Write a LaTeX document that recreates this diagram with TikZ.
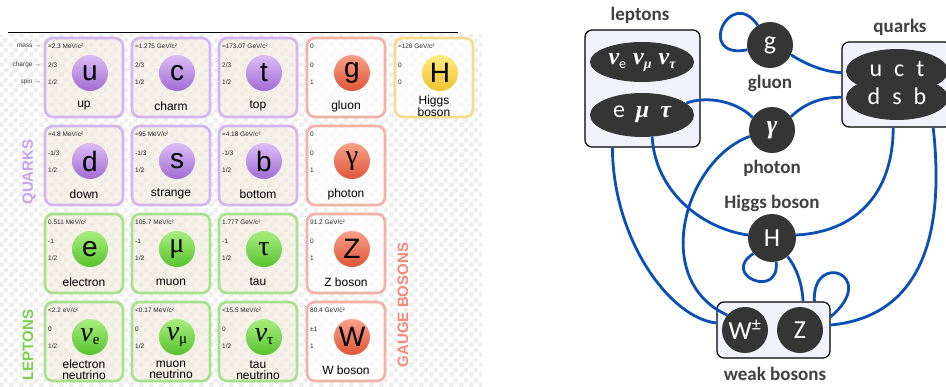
\documentclass[tikz,border=0pt]{standalone}
\usepackage{fontspec}
\setmainfont{Liberation Sans}
\newfontfamily\calfont{Carlito}
\newfontfamily\tnr{Liberation Serif}
\usetikzlibrary{patterns,shapes.geometric}

\pgfdeclarepatternformonly{checks}{\pgfpointorigin}{\pgfpoint{10pt}{10pt}}{\pgfpoint{10pt}{10pt}}{%
  \pgfpathrectangle{\pgfpointorigin}{\pgfpoint{5pt}{5pt}}%
  \pgfpathrectangle{\pgfpoint{5pt}{5pt}}{\pgfpoint{5pt}{5pt}}%
  \pgfusepath{fill}}

\definecolor{checkgray}{HTML}{EEEEEE}
\definecolor{qborder}{HTML}{D3B6EF}
\definecolor{lborder}{HTML}{A8E18C}
\definecolor{gborder}{HTML}{F2B2A6}
\definecolor{hborder}{HTML}{F6DC8C}
\definecolor{qfill}{HTML}{F4ECDC}
\definecolor{lfill}{HTML}{F4ECDC}
\definecolor{gfill}{HTML}{FFFFFF}
\definecolor{hfill}{HTML}{FFFFFF}
\definecolor{qtop}{HTML}{DDBDF6}
\definecolor{qbot}{HTML}{A16CD4}
\definecolor{ltop}{HTML}{A9EF7E}
\definecolor{lbot}{HTML}{57C22E}
\definecolor{gtop}{HTML}{F7A088}
\definecolor{gbot}{HTML}{E0553A}
\definecolor{htop}{HTML}{FFEC85}
\definecolor{hbot}{HTML}{F0C22C}
\definecolor{qlabc}{HTML}{C9A2EE}
\definecolor{llabc}{HTML}{7CD04F}
\definecolor{glabc}{HTML}{F28A78}
\definecolor{dark}{HTML}{353535}
\definecolor{lav}{HTML}{F2F2FC}
\definecolor{labgray}{HTML}{404040}
\definecolor{linkblue}{HTML}{0A4FB5}

\pgfdeclarelayer{bg}
\pgfdeclarelayer{lines}
\pgfsetlayers{bg,lines,main}

\newcommand\nuL[1]{{\tnr\itshape ν}\raisebox{-3pt}{\tnr\fontsize{15}{15}\selectfont #1}}
\newcommand\nuR[1]{{\tnr\bfseries\itshape ν}\raisebox{-4pt}{\fontsize{14}{14}\selectfont #1}}

\newcommand\pcell[9]{%
  \node[cellbox=#4] (#1box) at ({#2+40},{#3+40.5}) {};
  \node[ball=#4] (#1ball) at ({#2+46},{#3+36}) {#5};
  \node[val] (#1m) at ({#2+4},{#3+9}) {#6};
  \node[val] (#1c) at ({#2+4},{#3+28}) {#7};
  \node[val] (#1s) at ({#2+4},{#3+45}) {#8};
  \node[pname] (#1n) at ({#2+40},{#3+69}) {#9};
}

\tikzset{
  cellbox/.style={draw=#1border, fill=#1fill, fill opacity=0.6, line width=2.6pt,
    rounded corners=8pt, minimum width=78pt, minimum height=79pt, inner sep=0pt},
  ball/.style={circle, minimum size=36pt, inner sep=0pt, top color=#1top, bottom color=#1bot,
    font=\fontsize{28}{28}\selectfont},
  val/.style={anchor=west, inner sep=0pt, font=\fontsize{6.5}{7}\selectfont, text=black!85},
  axlab/.style={anchor=east, inner sep=0pt, font=\fontsize{6.5}{7}\selectfont, text=black!75},
  pname/.style={align=center, inner sep=0pt, font=\fontsize{12}{11}\selectfont},
  biglab/.style={rotate=90, inner sep=0pt, font=\bfseries\fontsize{15}{15}\selectfont},
  dbox/.style={draw=black, line width=1.2pt, fill=lav, rounded corners=7pt, inner sep=0pt},
  dell/.style={ellipse, fill=dark, inner sep=0pt},
  dcirc/.style={circle, fill=dark, minimum size=46pt, inner sep=0pt, text=white,
    font=\calfont\fontsize{26}{26}\selectfont},
  wtext/.style={inner sep=0pt, text=white, font=\calfont\fontsize{24}{24}\selectfont},
  rlab/.style={inner sep=0pt, text=labgray, font=\calfont\bfseries\fontsize{19}{19}\selectfont},
  conn/.style={draw=linkblue, line width=2.8pt},
}

\begin{document}
\begin{tikzpicture}[x=1pt,y=-1pt]
\useasboundingbox (0,0) rectangle (946,386);
\begin{pgfonlayer}{bg}
\fill[white] (0,0) rectangle (946,386);
\fill[pattern=checks, pattern color=checkgray] (0,34) rectangle (482,386);
\draw[line width=0.9pt] (8,32) -- (458,32);
\end{pgfonlayer}

% ---------------- left: table ----------------
\node[axlab] (lmass) at (41,46) {mass →};
\node[axlab] (lcharge) at (41,65) {charge →};
\node[axlab] (lspin) at (41,82) {spin →};

\pcell{u}{44}{37}{q}{u}{≈2.3 MeV/c²}{2/3}{1/2}{up}
\pcell{c}{131}{37}{q}{c}{≈1.275 GeV/c²}{2/3}{1/2}{charm}
\pcell{t}{218}{37}{q}{t}{≈173.07 GeV/c²}{2/3}{1/2}{top}
\pcell{g}{306}{37}{g}{g}{0}{0}{1}{gluon}
\pcell{H}{394}{37}{h}{H}{≈126 GeV/c²}{0}{0}{Higgs\\boson}
\pcell{d}{44}{125}{q}{d}{≈4.8 MeV/c²}{-1/3}{1/2}{down}
\pcell{s}{131}{125}{q}{s}{≈95 MeV/c²}{-1/3}{1/2}{strange}
\pcell{b}{218}{125}{q}{b}{≈4.18 GeV/c²}{-1/3}{1/2}{bottom}
\pcell{ph}{306}{125}{g}{\tnr γ}{0}{0}{1}{photon}
\pcell{e}{44}{213}{l}{e}{0.511 MeV/c²}{-1}{1/2}{electron}
\pcell{mu}{131}{213}{l}{\tnr μ}{105.7 MeV/c²}{-1}{1/2}{muon}
\pcell{ta}{218}{213}{l}{\tnr τ}{1.777 GeV/c²}{-1}{1/2}{tau}
\pcell{Z}{306}{213}{g}{Z}{91.2 GeV/c²}{0}{1}{Z boson}
\pcell{ne}{44}{301}{l}{\nuL{e}}{<2.2 eV/c²}{0}{1/2}{electron\\neutrino}
\pcell{nm}{131}{301}{l}{\nuL{μ}}{<0.17 MeV/c²}{0}{1/2}{muon\\neutrino}
\pcell{nt}{218}{301}{l}{\nuL{τ}}{<15.5 MeV/c²}{0}{1/2}{tau\\neutrino}
\pcell{W}{306}{301}{g}{W}{80.4 GeV/c²}{±1}{1}{W boson}

\node[biglab, text=qlabc] (quarkslab) at (29,172) {QUARKS};
\node[biglab, text=llabc] (leptonslab) at (28,345) {LEPTONS};
\node[biglab, text=glabc] (gaugelab) at (403,305) {GAUGE BOSONS};

% ---------------- right: interaction diagram ----------------
\begin{pgfonlayer}{bg}
\node[dbox, minimum width=115pt, minimum height=117pt] (lepbox) at (642.5,88.5) {};
\node[dbox, minimum width=110pt, minimum height=85pt] (qbox) at (897,84.5) {};
\node[dbox, minimum width=113pt, minimum height=56pt] (wbox) at (773.5,330) {};
\end{pgfonlayer}

\node[dell, minimum width=104pt, minimum height=40pt] (lep1) at (642,62) {};
\node[dell, minimum width=104pt, minimum height=44pt] (lep2) at (642,115) {};
\node[wtext] (lep1t) at (642,62) {\nuR{e}\hspace{7pt}\nuR{\tnr\bfseries\itshape μ}\hspace{7pt}\nuR{\tnr\bfseries\itshape τ}};
\node[wtext] (lep2t) at (642,114) {e\hspace{11pt}{\tnr\bfseries\itshape μ}\hspace{11pt}{\tnr\bfseries\itshape τ}};

\node[dell, minimum width=102pt, minimum height=44pt] (qup) at (897,71) {};
\node[dell, minimum width=102pt, minimum height=44pt] (qdn) at (897,98) {};
\node[wtext] (qt1) at (897,69) {u\hspace{12pt}c\hspace{12pt}t};
\node[wtext] (qt2) at (897,96) {d\hspace{12pt}s\hspace{12pt}b};

\node[dcirc] (rg) at (770,45) {g};
\node[dcirc] (rgam) at (772,130) {\tnr\bfseries\itshape γ};
\node[dcirc, minimum size=48pt] (rH) at (772,238) {H};
\node[dcirc] (rW) at (745,330) {W\textsuperscript{±}};
\node[dcirc] (rZ) at (800,330) {Z};

\node[rlab] (leptxt) at (640,15) {leptons};
\node[rlab] (gluontxt) at (770,83) {gluon};
\node[rlab] (quarkstxt) at (900,27) {quarks};
\node[rlab] (photontxt) at (772,168) {photon};
\node[rlab] (higgstxt) at (772,203) {Higgs boson};
\node[rlab] (weaktxt) at (775,374) {weak bosons};

\begin{pgfonlayer}{lines}
\draw[conn] (rg.122) .. controls (730,-15) and (695,60) .. (rg.192);
\draw[conn] (rg.-25) .. controls (810,67) and (828,72) .. (qbox.168);
\draw[conn] (lep2.15) .. controls (705,96) and (735,100) .. (rgam.147);
\draw[conn] (rgam.35) .. controls (805,103) and (822,97) .. (qbox.193);
\draw[conn] (lep2.-65) .. controls (655,190) and (700,228) .. (rH.173);
\draw[conn] (qbox.-95) .. controls (893,195) and (855,232) .. (rH.7);
\draw[conn] (lepbox.-117) .. controls (613,240) and (670,318) .. (wbox.173);
\draw[conn] (qbox.-50) .. controls (948,260) and (905,318) .. (wbox.5);
\draw[conn] (rgam.196) .. controls (685,160) and (650,280) .. (rW.140);
\draw[conn] (rH.220) .. controls (720,275) and (780,300) .. (rH.-80);
\draw[conn] (rH.-50) .. controls (798,270) and (802,285) .. (wbox.44);
\draw[conn] (wbox.35) .. controls (812,250) and (880,275) .. (wbox.13);
\end{pgfonlayer}
\end{tikzpicture}
\end{document}
